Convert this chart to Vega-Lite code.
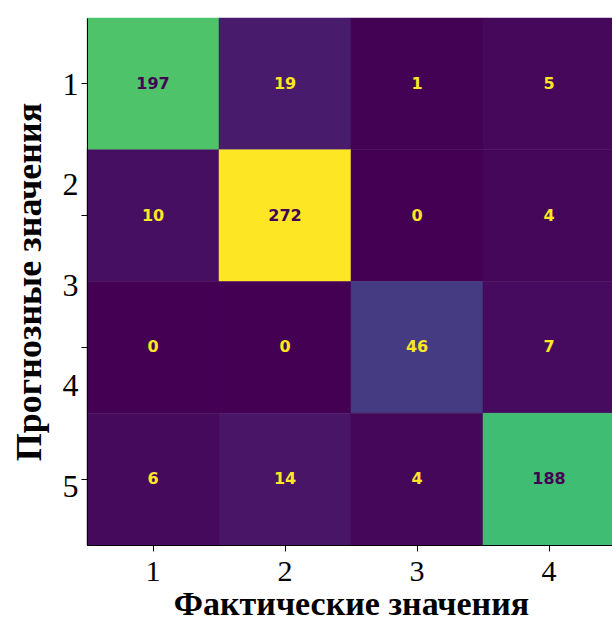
{
  "$schema": "https://vega.github.io/schema/vega-lite/v6.json",
  "width": 528,
  "height": 527,
  "autosize": "none",
  "padding": {"left": 87, "top": 18, "right": 0, "bottom": 76},
  "background": "white",
  "config": {
    "view": {"stroke": "black", "strokeWidth": 1},
    "font": "Liberation Serif",
    "axis": {"grid": false, "domainColor": "black", "tickColor": "black", "labelColor": "black", "titleColor": "black"}
  },
  "layer": [
    {
      "data": {
        "values": [
          {"actual": 1, "predicted": 1, "count": 197},
          {"actual": 2, "predicted": 1, "count": 19},
          {"actual": 3, "predicted": 1, "count": 1},
          {"actual": 4, "predicted": 1, "count": 5},
          {"actual": 1, "predicted": 2, "count": 10},
          {"actual": 2, "predicted": 2, "count": 272},
          {"actual": 3, "predicted": 2, "count": 0},
          {"actual": 4, "predicted": 2, "count": 4},
          {"actual": 1, "predicted": 3, "count": 0},
          {"actual": 2, "predicted": 3, "count": 0},
          {"actual": 3, "predicted": 3, "count": 46},
          {"actual": 4, "predicted": 3, "count": 7},
          {"actual": 1, "predicted": 4, "count": 6},
          {"actual": 2, "predicted": 4, "count": 14},
          {"actual": 3, "predicted": 4, "count": 4},
          {"actual": 4, "predicted": 4, "count": 188}
        ]
      },
      "encoding": {
        "x": {
          "field": "actual", "type": "ordinal",
          "scale": {"paddingInner": 0, "paddingOuter": 0},
          "axis": {
            "title": "Фактические значения",
            "labelAngle": 0,
            "labelFont": "Liberation Serif", "labelFontSize": 30,
            "labelPadding": 5, "tickSize": 6,
            "titleFont": "Liberation Serif", "titleFontSize": 34, "titleFontWeight": "bold",
            "titlePadding": 1
          }
        },
        "y": {
          "field": "predicted", "type": "ordinal",
          "scale": {"paddingInner": 0, "paddingOuter": 0},
          "axis": {"labels": false, "title": null, "tickSize": 6, "orient": "left"}
        }
      },
      "layer": [
        {
          "mark": {"type": "rect", "strokeWidth": 0.5},
          "encoding": {
            "color": {"field": "count", "type": "quantitative", "scale": {"scheme": "viridis", "domain": [0, 272]}, "legend": null},
            "stroke": {"field": "count", "type": "quantitative", "scale": {"scheme": "viridis", "domain": [0, 272]}, "legend": null}
          }
        },
        {
          "mark": {"type": "text", "font": "DejaVu Sans", "fontSize": 16, "fontWeight": "bold"},
          "encoding": {
            "text": {"field": "count", "type": "quantitative"},
            "color": {"condition": {"test": "datum.count > 136", "value": "#440154"}, "value": "#fde725"}
          }
        }
      ]
    },
    {
      "data": {"values": [{"label": 1}, {"label": 2}, {"label": 3}, {"label": 4}, {"label": 5}]},
      "mark": {"type": "point", "opacity": 0},
      "encoding": {
        "y": {
          "field": "label", "type": "quantitative",
          "scale": {"domain": [0.343, 5.587], "reverse": true, "nice": false, "zero": false},
          "axis": {
            "orient": "left",
            "values": [1, 2, 3, 4, 5],
            "format": "d",
            "domain": false, "ticks": false, "tickSize": 0,
            "labelFont": "Liberation Serif", "labelFontSize": 32, "labelPadding": 9,
            "title": "Прогнозные значения",
            "titleFont": "Liberation Serif", "titleFontSize": 36, "titleFontWeight": "bold",
            "titlePadding": 14
          }
        }
      }
    }
  ],
  "resolve": {"scale": {"y": "independent", "color": "independent", "stroke": "independent"}, "axis": {"y": "independent"}}
}
